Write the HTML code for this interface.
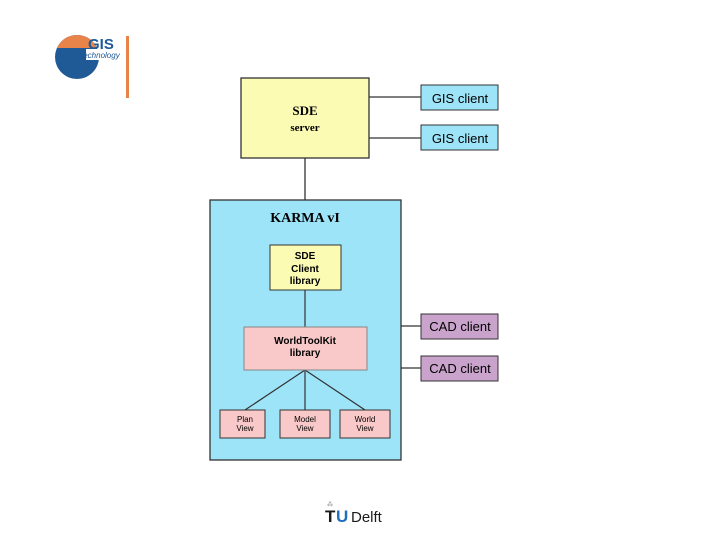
<!DOCTYPE html>
<html><head><meta charset="utf-8"><style>
body{margin:0;width:720px;height:540px;background:#fff;overflow:hidden;font-family:"Liberation Sans",sans-serif;}
</style></head><body>
<svg width="720" height="540" xmlns="http://www.w3.org/2000/svg" font-family="Liberation Sans, sans-serif">
<defs><clipPath id="c"><circle cx="77" cy="57" r="22"/></clipPath></defs>
<g clip-path="url(#c)"><rect x="50" y="30" width="60" height="60" fill="#1f5a96"/><rect x="50" y="30" width="60" height="18" fill="#e8834a"/></g>
<rect x="86" y="49" width="38" height="11" fill="#fff"/>
<text x="88" y="49" font-size="15" font-weight="bold" fill="#1f5a96">GIS</text>
<text x="81" y="58" font-size="8" font-style="italic" fill="#1f5a96">technology</text>
<rect x="126" y="36" width="3" height="62" fill="#e8834a"/>
<g stroke="#333" stroke-width="1.3" fill="none">
<line x1="369" y1="97" x2="421" y2="97"/><line x1="369" y1="138" x2="421" y2="138"/>
<line x1="305" y1="158" x2="305" y2="200"/>
<line x1="401" y1="326" x2="421" y2="326"/><line x1="401" y1="368" x2="421" y2="368"/>
</g>
<rect x="241" y="78" width="128" height="80" fill="#fbfbb4" stroke="#333" stroke-width="1.3"/>
<text x="305" y="115" font-family="Liberation Serif, serif" font-weight="bold" font-size="13" text-anchor="middle">SDE</text>
<text x="305" y="131" font-family="Liberation Serif, serif" font-weight="bold" font-size="11" text-anchor="middle">server</text>
<rect x="421" y="85" width="77" height="25" fill="#9de4f8" stroke="#333"/>
<text x="460" y="103" font-size="13" text-anchor="middle">GIS client</text>
<rect x="421" y="125" width="77" height="25" fill="#9de4f8" stroke="#333"/>
<text x="460" y="143" font-size="13" text-anchor="middle">GIS client</text>
<rect x="210" y="200" width="191" height="260" fill="#9de4f8" stroke="#333" stroke-width="1.3"/>
<text x="305" y="222" font-family="Liberation Serif, serif" font-weight="bold" font-size="14" text-anchor="middle">KARMA vI</text>
<g stroke="#333" stroke-width="1.2">
<line x1="305" y1="290" x2="305" y2="327"/>
<line x1="305" y1="370" x2="245" y2="410"/><line x1="305" y1="370" x2="305" y2="410"/><line x1="305" y1="370" x2="365" y2="410"/>
</g>
<rect x="270" y="245" width="71" height="45" fill="#fbfbb4" stroke="#333"/>
<g font-size="10" font-weight="bold" text-anchor="middle"><text x="305" y="259">SDE</text><text x="305" y="272">Client</text><text x="305" y="284">library</text></g>
<rect x="244" y="327" width="123" height="43" fill="#f9c8c8" stroke="#888"/>
<g font-size="10" font-weight="bold" text-anchor="middle"><text x="305" y="344">WorldToolKit</text><text x="305" y="356">library</text></g>
<g fill="#f9c8c8" stroke="#333"><rect x="220" y="410" width="45" height="28"/><rect x="280" y="410" width="50" height="28"/><rect x="340" y="410" width="50" height="28"/></g>
<g font-size="8" text-anchor="middle"><text x="245" y="422">Plan</text><text x="245" y="431">View</text><text x="305" y="422">Model</text><text x="305" y="431">View</text><text x="365" y="422">World</text><text x="365" y="431">View</text></g>
<rect x="421" y="314" width="77" height="25" fill="#c9a3cc" stroke="#333"/>
<text x="460" y="331" font-size="13" text-anchor="middle">CAD client</text>
<rect x="421" y="356" width="77" height="25" fill="#c9a3cc" stroke="#333"/>
<text x="460" y="373" font-size="13" text-anchor="middle">CAD client</text>
<text x="325" y="522" font-size="17" font-weight="bold" fill="#1a1a1a">T</text>
<text x="336" y="522" font-size="17" font-weight="bold" fill="#1f6fc0">U</text>
<text x="351" y="522" font-size="15" fill="#1a1a1a">Delft</text>
<text x="327" y="506" font-size="6" fill="#888">⁂</text>
</svg>
</body></html>
